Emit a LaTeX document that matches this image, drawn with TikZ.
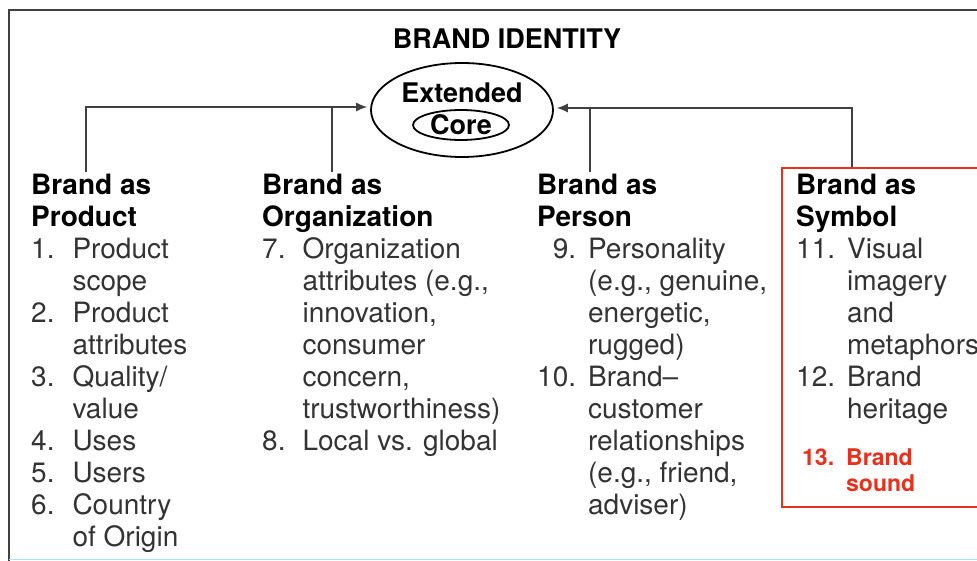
\documentclass[tikz,border=0pt]{standalone}
\usepackage{fontspec}
\setmainfont{TeX Gyre Heros}
\usetikzlibrary{shapes.geometric,arrows.meta}
\definecolor{symred}{RGB}{232,48,28}
\newcommand\brandhead[1]{\multicolumn{2}{@{}l@{}}{\color{black}\bfseries #1}}

\begin{document}
\begin{tikzpicture}[x=1pt,y=-1pt,
  >={Latex[length=11pt,width=9pt]},
  col/.style={anchor=base west, inner sep=0pt, text=black!80,
    font=\fontsize{28}{32}\selectfont},
  oval/.style={ellipse, draw, line width=1.8pt, inner sep=0pt},
  conn/.style={line width=1.1pt, black!75}]
\useasboundingbox (0,0) rectangle (977,561);
\clip (0,0) rectangle (977,561);

\draw[line width=1.8pt, black!75] (977,10) -- (9,10) -- (9,561);
\draw[line width=1pt, cyan!35] (9,559) -- (977,559);

\node[font=\bfseries\fontsize{27}{30}\selectfont] (title) at (507,39) {BRAND IDENTITY};

\node[oval, minimum width=182pt, minimum height=94pt] (ext) at (462,110) {};
\node[font=\bfseries\fontsize{27}{30}\selectfont] (extlabel) at (462,93) {Extended};
\node[oval, minimum width=96pt, minimum height=30pt,
  font=\bfseries\fontsize{27}{30}\selectfont] (core) at (461,125) {Core};

\node[col] (prod) at (31,195) {\begin{tabular}[t]{@{}r@{\hspace{18pt}}l@{}}
\brandhead{Brand as}\\ \brandhead{Product}\\
1. & Product\\ & scope\\
2. & Product\\ & attributes\\
3. & Quality/\\ & value\\
4. & Uses\\
5. & Users\\
6. & Country\\ & of Origin
\end{tabular}};

\node[col] (org) at (262,195) {\begin{tabular}[t]{@{}r@{\hspace{17pt}}l@{}}
\brandhead{Brand as}\\ \brandhead{Organization}\\
7. & Organization\\ & attributes (e.g.,\\ & innovation,\\ & consumer\\
   & concern,\\ & trustworthiness)\\
8. & Local vs. global
\end{tabular}};

\node[col] (pers) at (537,195) {\begin{tabular}[t]{@{}r@{\hspace{12pt}}l@{}}
\brandhead{Brand as}\\ \brandhead{Person}\\
9. & Personality\\ & (e.g., genuine,\\ & energetic,\\ & rugged)\\
10. & Brand--\\ & customer\\ & relationships\\ & (e.g., friend,\\ & adviser)
\end{tabular}};

\node[draw=symred, line width=1.6pt, anchor=north west, inner sep=0pt,
  minimum width=230pt, minimum height=339pt] (symbox) at (781,167) {};

\node[col] (symb) at (796,195) {\begin{tabular}[t]{@{}r@{\hspace{12pt}}l@{}}
\brandhead{Brand as}\\ \brandhead{Symbol}\\
11. & Visual\\ & imagery\\ & and\\ & metaphors\\
12. & Brand\\ & heritage
\end{tabular}};

\node[col, text=symred, font=\bfseries\fontsize{23}{26}\selectfont] (sound) at (802,465)
  {\begin{tabular}[t]{@{}r@{\hspace{12pt}}l@{}}
13. & Brand\\ & sound
\end{tabular}};

\coordinate (lj) at (86,107);
\coordinate (oj) at (332,107);
\coordinate (pj) at (590,108);
\coordinate (rj) at (852,108);

\draw[conn, ->, shorten >=3pt] (prod.north -| lj) -- (lj) -- (lj -| ext.west);
\draw[conn] (org.north -| oj) -- (oj);
\draw[conn, ->, shorten >=3pt] (symbox.north -| rj) -- (rj) -- (rj -| ext.east);
\draw[conn] (pers.north -| pj) -- (pj);

\end{tikzpicture}
\end{document}
